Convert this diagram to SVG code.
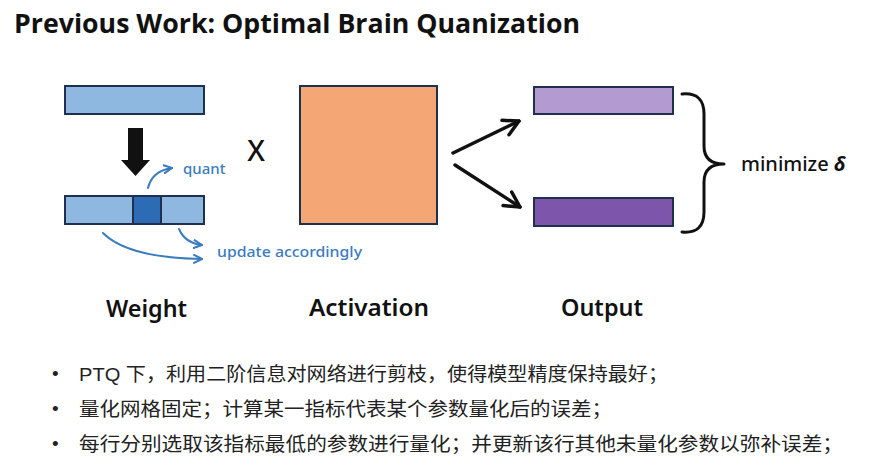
<svg xmlns="http://www.w3.org/2000/svg" width="877" height="474" viewBox="0 0 877 474">
<style>
.bar{stroke:#1f2f4f;stroke-width:2}
.lbl{font-family:"Noto Sans","Open Sans",sans-serif;font-weight:600;font-size:24px;fill:#111}
.ann{font-family:"Noto Sans","Open Sans",sans-serif;font-weight:500;font-size:15px;fill:#3b7bbf}
.blue{fill:none;stroke:#3b7bbf;stroke-width:2;stroke-linecap:round}
.blk{fill:none;stroke:#111;stroke-width:3.5;stroke-linecap:round}
.bul{font-family:"Liberation Sans","Noto Sans CJK SC",sans-serif;font-size:19px;fill:#222}
</style>
<defs>
<marker id="ab" viewBox="0 0 10 10" refX="9" refY="5" markerWidth="10" markerHeight="10" markerUnits="userSpaceOnUse" orient="auto">
<path d="M1,1 L9,5 L1,9" fill="none" stroke="#3b7bbf" stroke-width="2" stroke-linecap="round" stroke-linejoin="round"/>
</marker>
<marker id="ak" viewBox="0 0 20 20" refX="18" refY="10" markerWidth="20" markerHeight="20" markerUnits="userSpaceOnUse" orient="auto">
<path d="M3,2 L18,10 L3,18" fill="none" stroke="#111" stroke-width="3.5" stroke-linecap="round" stroke-linejoin="round"/>
</marker>
</defs>
<rect width="877" height="474" fill="#ffffff"/>
<text x="14" y="33" font-family="'Open Sans','Liberation Sans',sans-serif" font-weight="700" font-size="27" fill="#111" textLength="566" lengthAdjust="spacingAndGlyphs">Previous Work: Optimal Brain Quanization</text>

<g id="weight">
<rect class="bar" x="65" y="86" width="139" height="28" fill="#8fb8e0"/>
<rect class="bar" x="65" y="196" width="139" height="28" fill="#8fb8e0"/>
<rect class="bar" x="133" y="196" width="28" height="28" fill="#2c6cb5"/>
<polygon points="128,128 143,128 143,160 150,160 135.5,176 121,160 128,160" fill="#111"/>
<text class="lbl" x="106" y="317" textLength="81" lengthAdjust="spacingAndGlyphs">Weight</text>
</g>

<g id="quant-note">
<text class="ann" x="183" y="174">quant</text>
<text class="ann" x="217" y="257" textLength="145" lengthAdjust="spacingAndGlyphs">update accordingly</text>
</g>

<g id="times">
<text x="256" y="161" text-anchor="middle" font-family="'Noto Sans','Liberation Sans',sans-serif" font-weight="500" font-size="29" fill="#111">X</text>
</g>

<g id="activation">
<rect class="bar" x="300" y="86" width="137" height="138" fill="#f4a674"/>
<text class="lbl" x="309" y="316" textLength="120" lengthAdjust="spacingAndGlyphs">Activation</text>
</g>

<g id="output">
<rect class="bar" x="534" y="87" width="139" height="27" fill="#b39ad0"/>
<rect class="bar" x="534" y="198" width="139" height="28" fill="#7d55ab"/>
<text class="lbl" x="561" y="316" textLength="82" lengthAdjust="spacingAndGlyphs">Output</text>
</g>

<g id="minimize">
<path d="M682,94 Q704,92 704,114 L704,146 Q704,164 724,164 Q704,164 704,182 L704,212 Q704,234 682,232" fill="none" stroke="#111" stroke-width="3" stroke-linecap="round" stroke-linejoin="round"/>
<text x="741" y="171" font-family="'Noto Sans','Liberation Sans',sans-serif" font-weight="500" font-size="20" fill="#111">minimize <tspan font-style="italic" font-weight="700">δ</tspan></text>
</g>

<g id="connectors">
<path class="blue" d="M148,188 Q152,171 172,168" marker-end="url(#ab)"/>
<path class="blue" d="M103,233 Q128,258 202,259" marker-end="url(#ab)"/>
<path class="blue" d="M179,229 Q185,243 202,245" marker-end="url(#ab)"/>
<path class="blk" d="M453,153 L519,121" marker-end="url(#ak)"/>
<path class="blk" d="M455,165 L520,207" marker-end="url(#ak)"/>
</g>

<g id="bullets">
<text class="bul" x="52" y="380">•</text>
<text class="bul" x="52" y="415">•</text>
<text class="bul" x="52" y="450">•</text>
<text class="bul" x="79" y="381" textLength="589" lengthAdjust="spacingAndGlyphs">PTQ 下，利用二阶信息对网络进行剪枝，使得模型精度保持最好；</text>
<text class="bul" x="79" y="416" textLength="533" lengthAdjust="spacingAndGlyphs">量化网格固定；计算某一指标代表某个参数量化后的误差；</text>
<text class="bul" x="79" y="451" textLength="764" lengthAdjust="spacingAndGlyphs">每行分别选取该指标最低的参数进行量化；并更新该行其他未量化参数以弥补误差；</text>
</g>
</svg>
